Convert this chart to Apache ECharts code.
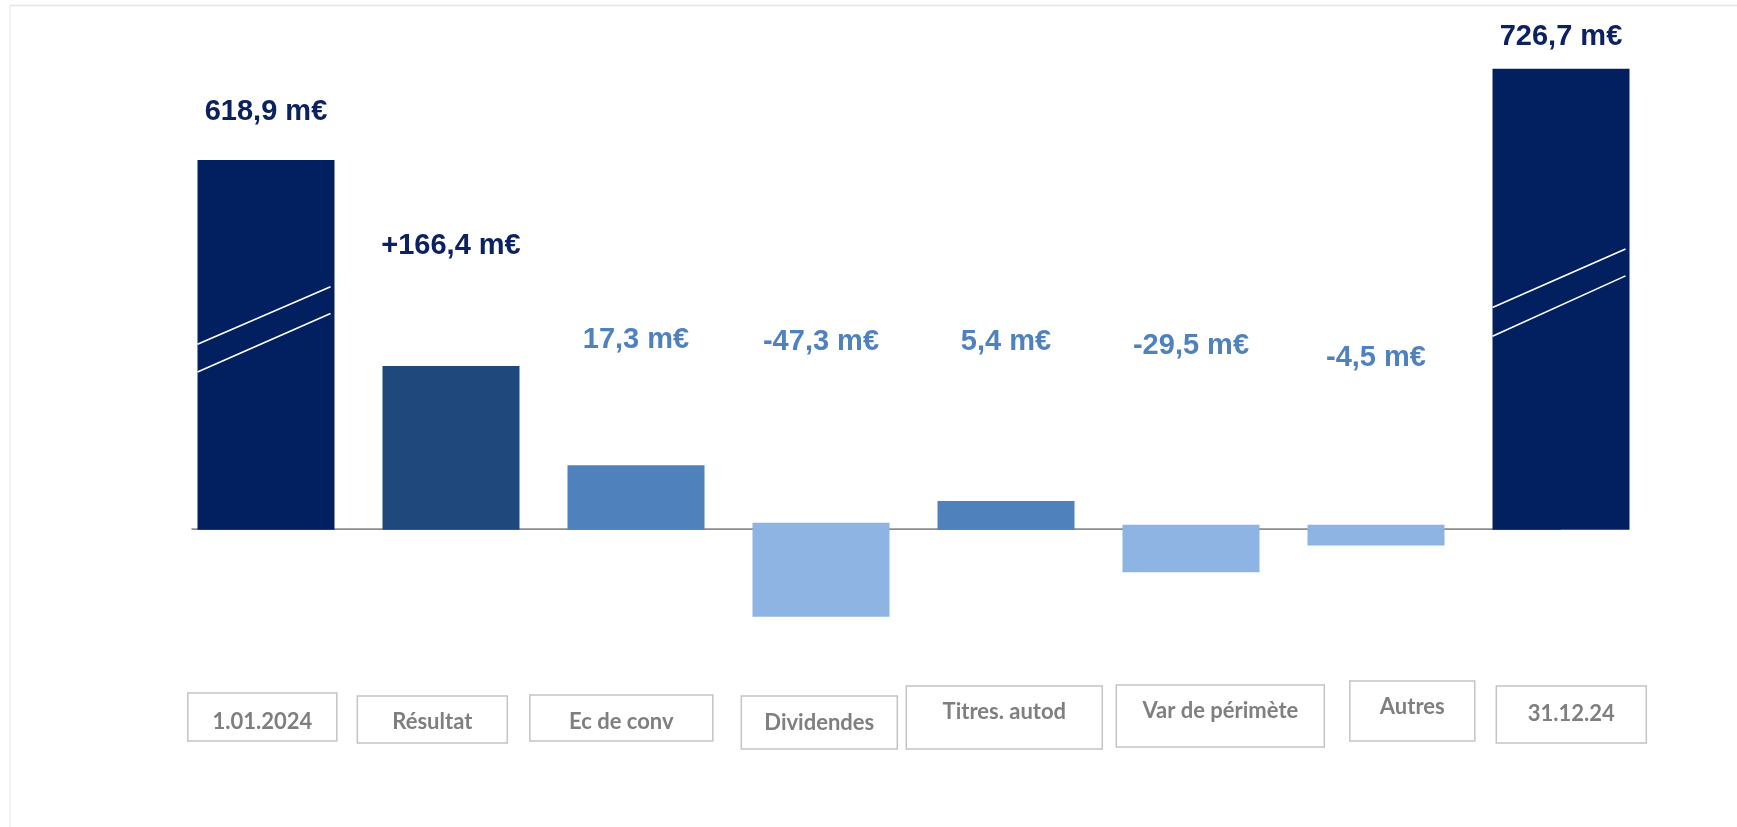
<!DOCTYPE html>
<html><head><meta charset="utf-8">
<script src="https://cdn.jsdelivr.net/npm/echarts@6/dist/echarts.min.js"></script>
<style>html,body{margin:0;padding:0;background:#fff}#c{width:1737px;height:827px}</style>
</head><body><div id="c"></div>
<script>
// ---- data ----
const categories = ['1.01.2024', 'Résultat', 'Ec de conv', 'Dividendes', 'Titres. autod', 'Var de périmète', 'Autres', '31.12.24'];
const amounts = [618.9, 166.4, 17.3, -47.3, 5.4, -29.5, -4.5, 726.7];
const amountPrefix = ['', '+', '', '', '', '', '', ''];
// bar extents as drawn on the (broken, non-proportional) visual scale
const barTop = [373, 165, 65, 7, 29, 5, 5, 465];
const barBottom = [0, 0, 0, -88, 0, -43, -16, 0];
const barKind = ['total', 'result', 'pos', 'neg', 'pos', 'neg', 'neg', 'total'];

// ---- layout / style (not data) ----
const layout = {
  barWidth: 137,
  labelLevel: [421, 286, 191, 189, 189, 185, 173, 497],
  boxLevel: [-189, -191.5, -190, -194.5, -189.5, -188, -183, -186.5],
  boxDx: [13, -8, -10, -3, -9, 16, 17, -15],
  boxW: [149, 150, 183, 156, 196, 208, 125, 150],
  boxH: [48, 47, 46, 53, 63, 62, 60, 57],
  boxTextDy: [5, 2.5, 4, 0.5, -5.5, -5, -4, -0.5],
  breaks: { 0: [[187, 245], [159, 218]], 7: [[224, 283], [195, 256]] }
};
const kindColor = { total: '#02205F', result: '#1F497D', pos: '#4F81BD', neg: '#8DB4E2' };
const kindLabelColor = { total: '#0B2160', result: '#0B2160', pos: '#4F81BD', neg: '#4F81BD' };

function fmt(i) {
  return amountPrefix[i] + amounts[i].toFixed(1).replace('.', ',') + ' m€';
}

const chart = echarts.init(document.getElementById('c'), null, { renderer: 'canvas' });
const idx = categories.map((c, i) => i);

chart.setOption({
  animation: false,
  backgroundColor: '#fff',
  grid: [
    { left: 173.5, width: 1480, top: 34, height: 800 },
    { left: 153.8, width: 1528, top: 34, height: 800 }
  ],
  xAxis: [
    { type: 'category', data: categories, gridIndex: 0, show: false },
    { type: 'category', data: categories, gridIndex: 1, show: false }
  ],
  yAxis: [
    { type: 'value', min: -300, max: 500, gridIndex: 0, show: false },
    { type: 'value', min: -300, max: 500, gridIndex: 1, show: false }
  ],
  graphic: [
    { type: 'line', shape: { x1: 10, y1: 5.5, x2: 1737, y2: 5.5 }, style: { stroke: '#e4e4e4', lineWidth: 1.5 } },
    { type: 'line', shape: { x1: 10, y1: 5, x2: 10, y2: 827 }, style: { stroke: '#ececec', lineWidth: 1.5 } }
  ],
  series: [
    { // baseline
      type: 'custom', xAxisIndex: 0, yAxisIndex: 0, z: 1, silent: true,
      data: [[0, 7]],
      renderItem: function (params, api) {
        const a = api.coord([api.value(0), 0]);
        const b = api.coord([api.value(1), 0]);
        return { type: 'line', shape: { x1: a[0] - layout.barWidth / 2 - 6, y1: a[1] - 0.5, x2: b[0], y2: b[1] - 0.5 },
          style: { stroke: '#8c8c8c', lineWidth: 1.6 } };
      }
    },
    { // bars
      type: 'custom', xAxisIndex: 0, yAxisIndex: 0, z: 2, silent: true,
      data: idx.map(i => [i, barBottom[i], barTop[i]]),
      encode: { x: 0, y: [1, 2] },
      renderItem: function (params, api) {
        const i = api.value(0);
        const top = api.coord([i, api.value(2)]);
        const bot = api.coord([i, api.value(1)]);
        const w = layout.barWidth;
        const children = [{
          type: 'rect',
          shape: { x: top[0] - w / 2, y: top[1], width: w, height: bot[1] - top[1] },
          style: { fill: kindColor[barKind[i]] }
        }];
        (layout.breaks[i] || []).forEach(function (ln) {
          const p1 = api.coord([i, ln[0]]);
          const p2 = api.coord([i, ln[1]]);
          children.push({
            type: 'line',
            shape: { x1: top[0] - w / 2, y1: p1[1], x2: top[0] + w / 2 - 4, y2: p2[1] },
            style: { stroke: '#ffffff', lineWidth: 1.6 }
          });
        });
        return { type: 'group', children: children };
      }
    },
    { // value labels
      type: 'custom', xAxisIndex: 0, yAxisIndex: 0, z: 3, silent: true,
      data: idx.map(i => [i, layout.labelLevel[i]]),
      renderItem: function (params, api) {
        const i = api.value(0);
        const p = api.coord([i, api.value(1)]);
        return {
          type: 'text', x: p[0], y: p[1],
          style: {
            text: fmt(i), fill: kindLabelColor[barKind[i]],
            font: 'bold 29px "Liberation Sans", Arial, sans-serif',
            align: 'center', verticalAlign: 'middle'
          }
        };
      }
    },
    { // category boxes
      type: 'custom', xAxisIndex: 1, yAxisIndex: 1, z: 3, silent: true,
      data: idx.map(i => [i, layout.boxLevel[i]]),
      renderItem: function (params, api) {
        const i = api.value(0);
        const p = api.coord([i, api.value(1)]);
        const cx = p[0] + layout.boxDx[i];
        const w = layout.boxW[i], h = layout.boxH[i];
        return {
          type: 'group',
          children: [
            { type: 'rect', shape: { x: cx - w / 2, y: p[1] - h / 2, width: w, height: h },
              style: { fill: '#ffffff', stroke: '#c4c4c4', lineWidth: 1.5 } },
            { type: 'text', x: cx, y: p[1] + layout.boxTextDy[i],
              style: { text: categories[i], fill: '#7f7f7f', font: 'bold 22px Lato, "Open Sans", sans-serif',
                align: 'center', verticalAlign: 'middle' } }
          ]
        };
      }
    }
  ]
});
</script>
</body></html>
